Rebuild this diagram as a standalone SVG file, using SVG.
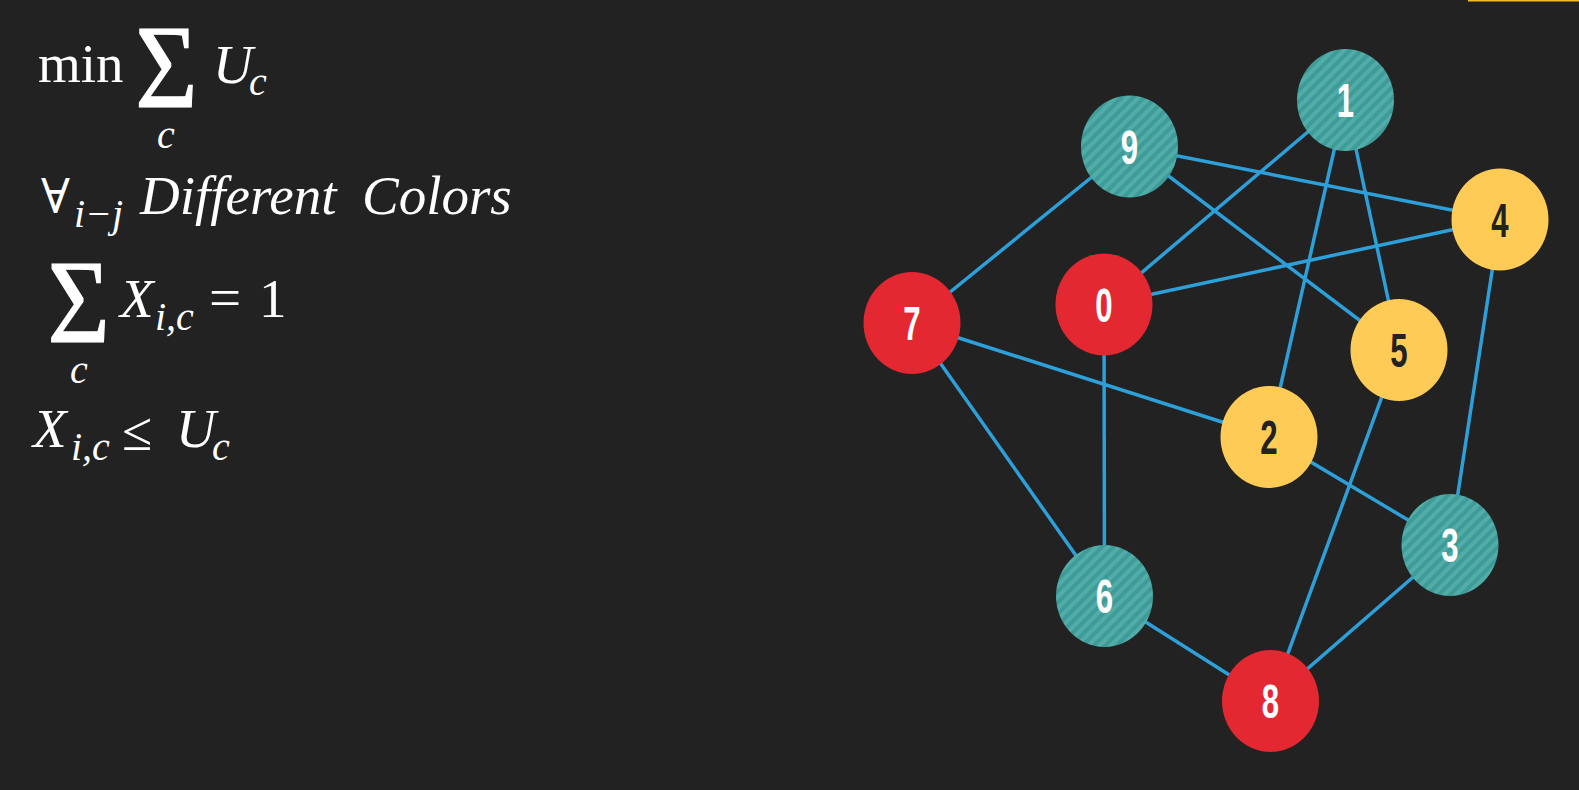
<svg xmlns="http://www.w3.org/2000/svg" width="1579" height="790" viewBox="0 0 1579 790">
<style>
.m{font-family:"Liberation Serif","DejaVu Serif",serif;fill:#ffffff}
.it{font-style:italic}
.sig{stroke:#ffffff;stroke-width:1.2}
.e{stroke:#2d9fd9;stroke-width:3.5;fill:none}
.lbl{font-family:"Liberation Sans","DejaVu Sans",sans-serif;font-weight:bold;font-size:48px;text-anchor:middle}
.red{fill:#e32832}
.yel{fill:#fecb57}
.teal{fill:url(#stripes)}
</style>
<defs>
<pattern id="stripes" patternUnits="userSpaceOnUse" width="8" height="8" patternTransform="rotate(45)">
<rect width="8" height="8" fill="#3e9b98"/>
<rect width="4" height="8" fill="#52ada9"/>
</pattern>
</defs>
<rect width="1579" height="790" fill="#222222"/>
<rect x="1468" y="0" width="111" height="1.5" fill="#f5b731"/>

<g id="formulas">
<text class="m" x="38" y="82" font-size="55">min</text>
<text class="m sig" x="185" y="107" font-size="119" text-anchor="middle" transform="scale(0.9,1)">Σ</text>
<text class="m it" x="213" y="83" font-size="55">U</text>
<text class="m it" x="249" y="95" font-size="40">c</text>
<text class="m it" x="157" y="148" font-size="40">c</text>

<text class="m" x="41" y="213" font-size="48">∀</text>
<text class="m it" x="74" y="227" font-size="40">i−j</text>
<text class="m it" x="140" y="214" font-size="55">Different</text>
<text class="m it" x="362" y="214" font-size="55">Colors</text>

<text class="m sig" x="87.5" y="342" font-size="119" text-anchor="middle" transform="scale(0.9,1)">Σ</text>
<text class="m it" x="120" y="317" font-size="55">X</text>
<text class="m it" x="155" y="330" font-size="40">i,c</text>
<text class="m" x="209" y="317" font-size="57">=</text>
<text class="m" x="259" y="317" font-size="55">1</text>
<text class="m it" x="70" y="383" font-size="40">c</text>

<text class="m it" x="33" y="447" font-size="55">X</text>
<text class="m it" x="71" y="460" font-size="40">i,c</text>
<text class="m" x="122" y="450" font-size="55">≤</text>
<text class="m it" x="176" y="447" font-size="55">U</text>
<text class="m it" x="212" y="460" font-size="40">c</text>
</g>

<g id="edges">
<line class="e" x1="1129.5" y1="146.5" x2="912" y2="323"/>
<line class="e" x1="1129.5" y1="146.5" x2="1500" y2="219.5"/>
<line class="e" x1="1129.5" y1="146.5" x2="1399" y2="350"/>
<line class="e" x1="1345.5" y1="100" x2="1104" y2="304.5"/>
<line class="e" x1="1345.5" y1="100" x2="1269" y2="437"/>
<line class="e" x1="1345.5" y1="100" x2="1399" y2="350"/>
<line class="e" x1="1500" y1="219.5" x2="1104" y2="304.5"/>
<line class="e" x1="1500" y1="219.5" x2="1450" y2="545"/>
<line class="e" x1="912" y1="323" x2="1269" y2="437"/>
<line class="e" x1="912" y1="323" x2="1104.5" y2="596"/>
<line class="e" x1="1104" y1="304.5" x2="1104.5" y2="596"/>
<line class="e" x1="1269" y1="437" x2="1450" y2="545"/>
<line class="e" x1="1399" y1="350" x2="1270.5" y2="701"/>
<line class="e" x1="1450" y1="545" x2="1270.5" y2="701"/>
<line class="e" x1="1104.5" y1="596" x2="1270.5" y2="701"/>
</g>

<g id="node0"><ellipse class="red" cx="1104" cy="304.5" rx="48.5" ry="51"/><text class="lbl" fill="#ffffff" transform="translate(1104,304.5) scale(0.65,1)" y="17">0</text></g>
<g id="node1"><ellipse class="teal" cx="1345.5" cy="100" rx="48.5" ry="51"/><text class="lbl" fill="#ffffff" transform="translate(1345.5,100) scale(0.65,1)" y="17">1</text></g>
<g id="node2"><ellipse class="yel" cx="1269" cy="437" rx="48.5" ry="51"/><text class="lbl" fill="#222222" transform="translate(1269,437) scale(0.65,1)" y="17">2</text></g>
<g id="node3"><ellipse class="teal" cx="1450" cy="545" rx="48.5" ry="51"/><text class="lbl" fill="#ffffff" transform="translate(1450,545) scale(0.65,1)" y="17">3</text></g>
<g id="node4"><ellipse class="yel" cx="1500" cy="219.5" rx="48.5" ry="51"/><text class="lbl" fill="#222222" transform="translate(1500,219.5) scale(0.65,1)" y="17">4</text></g>
<g id="node5"><ellipse class="yel" cx="1399" cy="350" rx="48.5" ry="51"/><text class="lbl" fill="#222222" transform="translate(1399,350) scale(0.65,1)" y="17">5</text></g>
<g id="node6"><ellipse class="teal" cx="1104.5" cy="596" rx="48.5" ry="51"/><text class="lbl" fill="#ffffff" transform="translate(1104.5,596) scale(0.65,1)" y="17">6</text></g>
<g id="node7"><ellipse class="red" cx="912" cy="323" rx="48.5" ry="51"/><text class="lbl" fill="#ffffff" transform="translate(912,323) scale(0.65,1)" y="17">7</text></g>
<g id="node8"><ellipse class="red" cx="1270.5" cy="701" rx="48.5" ry="51"/><text class="lbl" fill="#ffffff" transform="translate(1270.5,701) scale(0.65,1)" y="17">8</text></g>
<g id="node9"><ellipse class="teal" cx="1129.5" cy="146.5" rx="48.5" ry="51"/><text class="lbl" fill="#ffffff" transform="translate(1129.5,146.5) scale(0.65,1)" y="17">9</text></g>
</svg>
